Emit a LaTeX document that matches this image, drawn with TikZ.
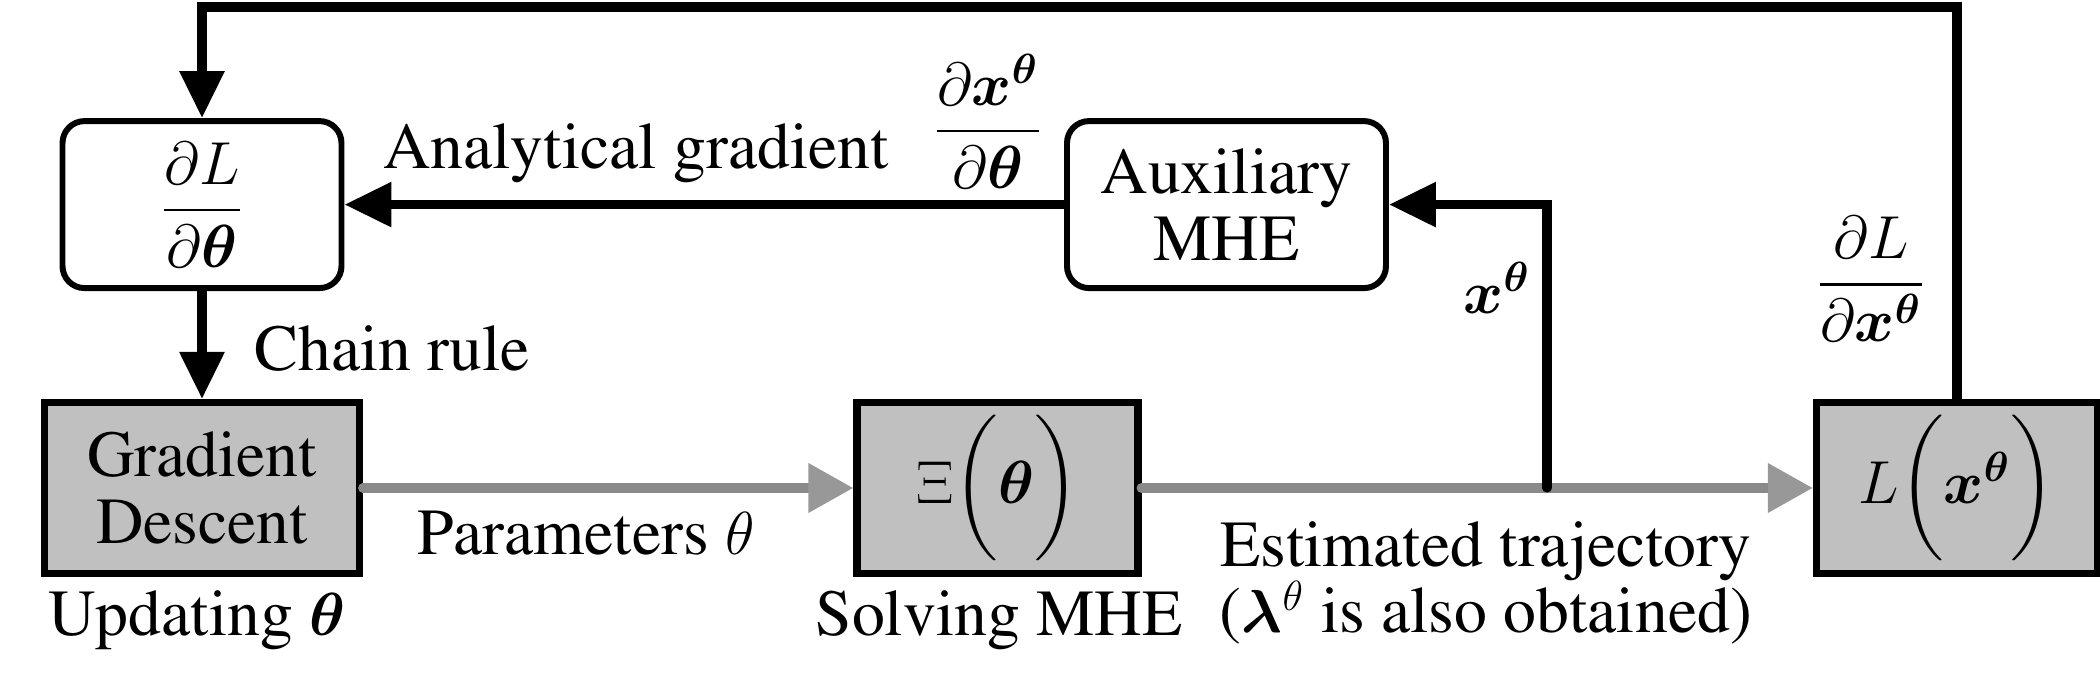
\documentclass[tikz,border=0pt]{standalone}
\usepackage[T1]{fontenc}
\renewcommand{\rmdefault}{ptm}
\usepackage{amsmath}
\usepackage{bm}
\usetikzlibrary{arrows.meta}
\definecolor{boxgray}{RGB}{192,192,192}
\definecolor{flowgray}{RGB}{138,138,138}
\definecolor{headgray}{RGB}{152,152,152}

\begin{document}
\begin{tikzpicture}[nodes={font=\fontsize{18.7}{19}\selectfont},
  rbox/.style={draw, rounded corners=0.22cm, line width=1.7pt, minimum width=2.79cm, minimum height=1.67cm, align=center},
  gbox/.style={draw, fill=boxgray, line width=2pt, minimum width=2.81cm, minimum height=1.71cm, align=center},
  blk/.style={line width=2.6pt, -{Triangle[length=0.47cm, width=0.43cm]}},
  gry/.style={draw=flowgray, line width=2.8pt, line cap=round, -{Triangle[length=0.45cm, width=0.47cm, color=headgray]}}]
\useasboundingbox (0,0) rectangle (21,6.9);

\node[rbox] (dldt) at (2.02, 4.854) {$\dfrac{\partial L}{\partial\boldsymbol{\theta}}$};
\node[rbox, minimum width=3.19cm] (aux) at (12.265, 4.854) {Auxiliary\\MHE};
\node[gbox, minimum width=3.15cm] (gd) at (2.02, 2.02) {Gradient\\Descent};
\node[gbox] (xi) at (9.975, 2.02) {$\Xi\bigg(\boldsymbol{\theta}\bigg)$};
\node[gbox] (loss) at (19.57, 2.02) {$L\bigg(\boldsymbol{x}^{\boldsymbol{\theta}}\bigg)$};

\node[anchor=west] (chain) at (2.42, 3.41) {Chain rule};
\node (upd) at (1.97, 0.70) {Updating $\boldsymbol{\theta}$};
\node (param) at (5.86, 1.57) {Parameters $\theta$};
\node (solve) at (9.99, 0.70) {Solving MHE};
\node[align=center] (traj) at (14.86, 1.07) {Estimated trajectory\\($\boldsymbol{\lambda}^{\theta}$ is also obtained)};
\node (anal) at (6.36, 5.37) {Analytical gradient};
\node (dxdt) at (9.88, 5.69) {$\dfrac{\partial\boldsymbol{x}^{\boldsymbol{\theta}}}{\partial\boldsymbol{\theta}}$};
\node (xlab) at (14.97, 4.02) {$\boldsymbol{x}^{\boldsymbol{\theta}}$};
\node (dldx) at (18.71, 4.11) {$\dfrac{\partial L}{\partial\boldsymbol{x}^{\boldsymbol{\theta}}}$};

\coordinate (split) at (15.47, 2.02);
\coordinate (top) at (0, 6.83);

\draw[gry] (gd) -- (xi);
\draw[gry] (xi) -- (loss);
\draw[blk, line cap=round] (split) |- (aux);
\draw[blk] (aux) -- (dldt);
\draw[blk] (dldt) -- (gd);
\draw[blk] (loss.north) -- (loss.north |- top) -- (dldt.north |- top) -- (dldt.north);
\end{tikzpicture}
\end{document}
